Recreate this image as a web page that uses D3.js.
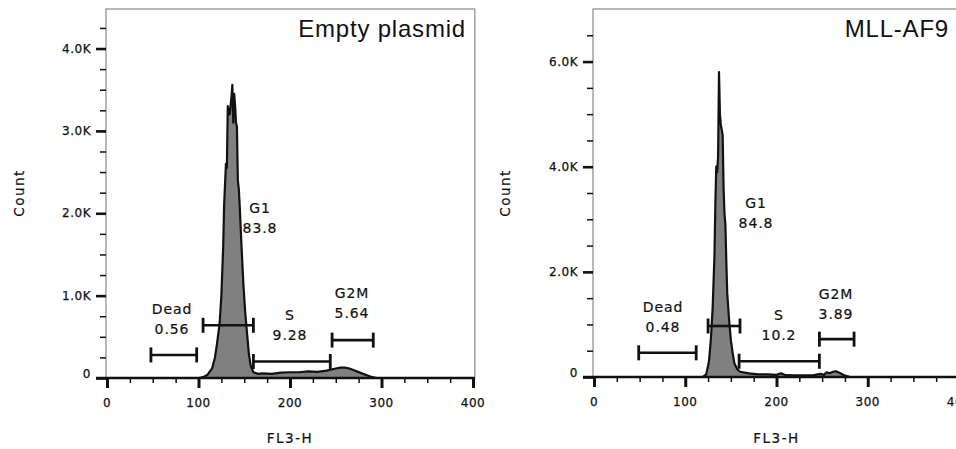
<!DOCTYPE html>
<html>
<head>
<meta charset="utf-8">
<script src="https://cdn.jsdelivr.net/npm/d3@7"></script>
<style>
  body { margin: 0; background: #fff; }
  svg { display: block; }
  .tick-label { font-family: "DejaVu Sans", sans-serif; font-size: 12px; letter-spacing: 0.5px; fill: #111; stroke: #111; stroke-width: 0.25px; }
  .gate-label { font-family: "DejaVu Sans", sans-serif; font-size: 14px; letter-spacing: 0.9px; fill: #111; stroke: #111; stroke-width: 0.2px; }
  .axis-title { font-family: "DejaVu Sans", sans-serif; font-size: 13.5px; letter-spacing: 1.5px; fill: #111; stroke: #111; stroke-width: 0.2px; }
  .panel-title { font-family: "Liberation Sans", Arial, sans-serif; font-size: 24px; letter-spacing: 0.8px; fill: #111; }
</style>
</head>
<body>
<div id="chart"></div>
<script>
"use strict";

// FL3-H channel positions and counts
var emptyChannel = [0, 100, 105, 110, 115, 118, 120, 123, 125, 127, 128, 130, 131, 132, 134, 136, 137, 138, 139, 140, 141, 142, 143, 144, 145, 147, 149, 151, 153, 155, 157, 160, 165, 170, 180, 190, 200, 210, 220, 230, 240, 250, 255, 260, 265, 270, 280, 290, 295, 400];
var emptyCount = [0, 0, 10, 40, 120, 250, 400, 650, 1000, 1600, 2100, 2600, 2550, 3300, 3200, 3400, 3560, 3100, 3450, 3300, 3100, 3050, 2400, 2300, 2100, 1600, 1150, 800, 550, 300, 150, 70, 50, 55, 50, 65, 70, 70, 80, 75, 90, 115, 125, 125, 115, 95, 50, 10, 0, 0];

var mllChannel = [0, 118, 120, 123, 126, 128, 130, 132, 133, 134, 135, 136, 137, 138, 139, 140, 141, 142, 143, 144, 145, 146, 148, 150, 152, 154, 157, 160, 170, 180, 190, 200, 205, 210, 220, 240, 248, 252, 255, 258, 262, 265, 270, 275, 280, 285, 400];
var mllCount = [0, 0, 10, 50, 300, 700, 1300, 2300, 3300, 4000, 3900, 4200, 5800, 5000, 4800, 4700, 4600, 3600, 3100, 2900, 2200, 1600, 1100, 700, 450, 250, 150, 100, 70, 50, 50, 40, 70, 35, 30, 30, 60, 40, 90, 70, 100, 110, 70, 25, 5, 0, 0];

// gates: name, percentage, range on FL3-H, bar level in counts
var gateNames = ["Dead", "G1", "S", "G2M"];
var emptyGatePct = ["0.56", "83.8", "9.28", "5.64"];
var emptyGateRange = [[48, 98], [105, 160], [160, 244], [246, 291]];
var emptyGateLevel = [280, 640, 200, 460];
var mllGatePct = ["0.48", "84.8", "10.2", "3.89"];
var mllGateRange = [[49, 112], [125, 160], [159, 247], [247, 285]];
var mllGateLevel = [460, 970, 300, 720];

var xMajor = [0, 100, 200, 300, 400];
var xMinor = d3.range(0, 401, 25);

var W = 956, H = 449;
var svg = d3.select("#chart").append("svg").attr("width", W).attr("height", H);

function drawPanel(opt) {
  var x = d3.scaleLinear().domain([0, 400]).range([opt.x0, opt.x400]);
  var y = d3.scaleLinear().domain([0, opt.yTop]).range([opt.y0, 9]);
  var g = svg.append("g");

  var left = x(0) - 1, right = x(402), top = y(opt.yTop), bottom = y(0);

  // frame
  g.append("rect")
    .attr("x", left).attr("y", top)
    .attr("width", right - left).attr("height", bottom - top)
    .attr("fill", "none").attr("stroke", "#8a8a8a").attr("stroke-width", 1.2);

  // histogram
  var pts = opt.channel.map(function (c, i) { return [c, opt.count[i]]; });
  var area = d3.area()
    .x(function (d) { return x(d[0]); })
    .y0(y(0))
    .y1(function (d) { return y(d[1]); });
  var line = d3.line()
    .x(function (d) { return x(d[0]); })
    .y(function (d) { return y(d[1]); });
  g.append("path").datum(pts).attr("d", area).attr("fill", "#808080");
  g.append("path").datum(pts).attr("d", line)
    .attr("fill", "none").attr("stroke", "#111").attr("stroke-width", 2.2)
    .attr("stroke-linejoin", "round");

  // y axis ticks (outside frame)
  var yMinorAxis = d3.axisLeft(y).tickValues(d3.range(0, opt.yTop, opt.yMinorStep)).tickSize(6).tickFormat("");
  var yMajorAxis = d3.axisLeft(y).tickValues(opt.yMajor).tickSize(10).tickFormat("");
  var ym = g.append("g").attr("transform", "translate(" + left + ",0)").call(yMinorAxis);
  ym.select(".domain").remove();
  ym.selectAll("line").attr("stroke", "#111").attr("stroke-width", 1.5);
  var yM = g.append("g").attr("transform", "translate(" + left + ",0)").call(yMajorAxis);
  yM.select(".domain").remove();
  yM.selectAll("line").attr("stroke", "#111").attr("stroke-width", 2.6);

  g.selectAll(".ylab").data(opt.yMajor).enter().append("text")
    .attr("class", "tick-label")
    .attr("x", left - 15)
    .attr("y", function (d) { return y(d) + (d === 0 ? -4 : 0); })
    .attr("dy", "0.35em")
    .attr("text-anchor", "end")
    .text(function (d) { return d === 0 ? "0" : d3.format(".1f")(d / 1000) + "K"; });

  // x axis
  g.append("line")
    .attr("x1", left - 10).attr("x2", right)
    .attr("y1", bottom).attr("y2", bottom)
    .attr("stroke", "#111").attr("stroke-width", 2.4);
  var xMinorAxis = d3.axisBottom(x).tickValues(xMinor).tickSize(5).tickFormat("");
  var xMajorAxis = d3.axisBottom(x).tickValues(xMajor).tickSize(10).tickFormat("");
  var xm = g.append("g").attr("transform", "translate(0," + bottom + ")").call(xMinorAxis);
  xm.select(".domain").remove();
  xm.selectAll("line").attr("stroke", "#111").attr("stroke-width", 1.5);
  var xM = g.append("g").attr("transform", "translate(0," + bottom + ")").call(xMajorAxis);
  xM.select(".domain").remove();
  xM.selectAll("line").attr("stroke", "#111").attr("stroke-width", 3);

  g.selectAll(".xlab").data(xMajor).enter().append("text")
    .attr("class", "tick-label")
    .attr("x", function (d) { return x(d); })
    .attr("y", bottom + 29)
    .attr("text-anchor", "middle")
    .text(function (d) { return d; });

  // axis titles
  g.append("text").attr("class", "axis-title")
    .attr("x", (x(0) + x(400)) / 2).attr("y", 443)
    .attr("text-anchor", "middle").text("FL3-H");
  g.append("text").attr("class", "axis-title")
    .attr("transform", "translate(" + opt.countX + ",193) rotate(-90)")
    .attr("text-anchor", "middle").text("Count");

  // panel title
  g.append("text").attr("class", "panel-title")
    .attr("x", opt.titleX).attr("y", 37)
    .attr("text-anchor", "end").text(opt.title);

  // gates
  gateNames.forEach(function (name, i) {
    var r = opt.gateRange[i], yl = y(opt.gateLevel[i]);
    var gg = g.append("g").attr("stroke", "#111");
    gg.append("line").attr("x1", x(r[0])).attr("x2", x(r[1]))
      .attr("y1", yl).attr("y2", yl).attr("stroke-width", 2.6);
    gg.selectAll("line.cap").data(r).enter().append("line")
      .attr("class", "cap")
      .attr("x1", function (d) { return x(d); }).attr("x2", function (d) { return x(d); })
      .attr("y1", yl - 7.5).attr("y2", yl + 7.5).attr("stroke-width", 2.8);
    var lp = opt.labelPos[i];
    g.append("text").attr("class", "gate-label")
      .attr("x", lp[0]).attr("y", lp[1] + 5)
      .attr("text-anchor", "middle").text(name);
    g.append("text").attr("class", "gate-label")
      .attr("x", lp[0]).attr("y", lp[1] + 25)
      .attr("text-anchor", "middle").text(opt.gatePct[i]);
  });
}

drawPanel({
  title: "Empty plasmid", titleX: 466, countX: 24,
  x0: 107, x400: 473, y0: 378, yTop: 4480,
  yMajor: [0, 1000, 2000, 3000, 4000], yMinorStep: 250,
  channel: emptyChannel, count: emptyCount,
  gateRange: emptyGateRange, gateLevel: emptyGateLevel, gatePct: emptyGatePct,
  labelPos: [[172, 309], [260, 208], [290, 315], [352, 293]]
});

drawPanel({
  title: "MLL-AF9", titleX: 949, countX: 510,
  x0: 594, x400: 959, y0: 377, yTop: 7000,
  yMajor: [0, 2000, 4000, 6000], yMinorStep: 500,
  channel: mllChannel, count: mllCount,
  gateRange: mllGateRange, gateLevel: mllGateLevel, gatePct: mllGatePct,
  labelPos: [[663, 307], [756, 203], [779, 315], [836, 294]]
});
</script>
</body>
</html>
